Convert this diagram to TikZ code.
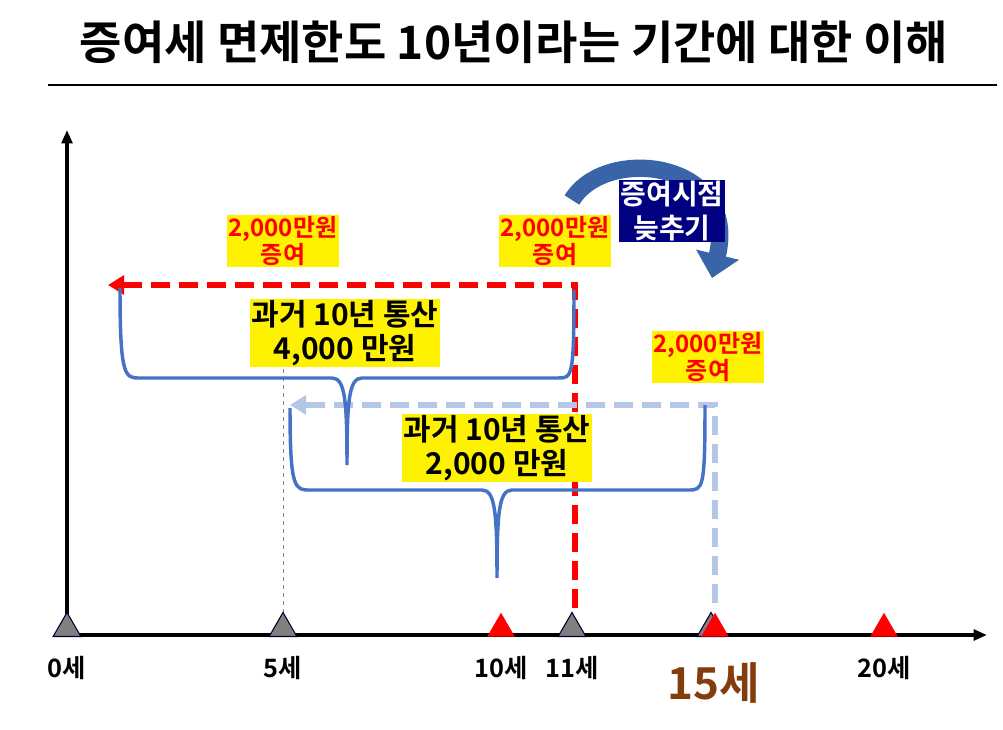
\documentclass[tikz,border=0pt]{standalone}
\usepackage{fontspec}
\setmainfont{Noto Sans CJK KR}[BoldFont={* Bold}]
\usetikzlibrary{arrows.meta,shapes.geometric}
\definecolor{brc}{HTML}{4472C4}
\definecolor{lbl}{HTML}{B4C7E7}
\definecolor{navy}{HTML}{000080}
\definecolor{brown}{HTML}{843C0C}
\definecolor{arr}{HTML}{3A64A8}
\tikzset{
 gift/.style={fill=yellow,text=red,font=\bfseries\fontsize{18}{20}\selectfont,align=center,inner sep=1pt},
 sum/.style={fill=yellow,text=black,font=\bfseries\fontsize{22.5}{26}\selectfont,align=center,inner sep=1pt},
 age/.style={font=\bfseries\fontsize{19}{22}\selectfont},
 tri/.style={regular polygon,regular polygon sides=3,inner sep=0pt,minimum size=24pt,anchor=south},
 brace/.style={brc,line width=2.6pt},
}
\begin{document}
\begin{tikzpicture}[x=0.75pt,y=-0.75pt]
\useasboundingbox (0,0) rectangle (1003,729);
\node[font=\bfseries\fontsize{34.5}{38}\selectfont] (title) at (514,42) {증여세 면제한도 10년이라는 기간에 대한 이해};
\draw[line width=1.5pt] (48,85) -- (997,85);
% axes
\coordinate (o) at (67,635);
\coordinate (ytop) at (67,130);
\coordinate (xend) at (987,635);
\draw[line width=2.8pt,-{Triangle[length=10pt,width=8pt]}] (o) -- (ytop);
\draw[line width=2.8pt,-{Triangle[length=10pt,width=8pt]}] (55,635) -- (xend);
% dashed gray
\draw[gray,dashed,line width=0.6pt] (283,345) -- (283,615);
% red dashed
\coordinate (r1) at (575,608);
\coordinate (r2) at (575,285);
\coordinate (r3) at (108,285);
\draw[red,line width=4.5pt,dash pattern=on 14pt off 7pt,-{Triangle[length=12pt,width=14pt]}] (r1) -- (r2) -- (r3);
% light blue dashed
\coordinate (b1) at (715,603);
\coordinate (b2) at (715,405);
\coordinate (b3) at (290,405);
\draw[lbl,line width=4.5pt,dash pattern=on 14pt off 7pt,-{Triangle[length=12pt,width=14pt]}] (b1) -- (b2) -- (b3);
% braces
\draw[brace] (120,288) .. controls (120,378) and (125,378) .. (140,378) -- (332,378) .. controls (345,378) and (347,400) .. (347,465)
  .. controls (347,400) and (349,378) .. (362,378) -- (558,378) .. controls (572,378) and (574,378) .. (574,290);
\draw[brace] (290,408) .. controls (290,490) and (295,490) .. (310,490) -- (482,490) .. controls (495,490) and (497,512) .. (497,578)
  .. controls (497,512) and (499,490) .. (512,490) -- (688,490) .. controls (703,490) and (705,490) .. (705,405);
% triangles
\foreach \x/\n in {67/t0,283/t5,572/t11,711/t15g}{\node[tri,fill=gray,draw=black!80!blue,line width=0.8pt] (\n) at (\x,637) {};}
\foreach \x/\n in {501/t10,715/t15,884/t20}{\node[tri,fill=red] (\n) at (\x,637) {};}
% age labels
\node[age] (a0) at (67,668) {0세};
\node[age] (a5) at (283,668) {5세};
\node[age] (a10) at (501,668) {10세};
\node[age] (a11) at (572,668) {11세};
\node[font=\bfseries\fontsize{33}{36}\selectfont,text=brown] (a15) at (714,683) {15세};
\node[age] (a20) at (884,668) {20세};
% gift labels
\node[gift] (g1) at (283,241) {2,000만원\\증여};
\node[gift] (g2) at (555,241) {2,000만원\\증여};
\node[gift] (g3) at (708,357) {2,000만원\\증여};
\node[sum] (s1) at (345,333) {과거 10년 통산\\4,000 만원};
\node[sum] (s2) at (497,448) {과거 10년 통산\\2,000 만원};
% curved arrow
\coordinate (c1) at (572,200);
\draw[arr,line width=13pt,-{Triangle[length=18pt,width=32pt]}] (c1) .. controls (605,145) and (740,160) .. (712,278);
\node[fill=navy,text=white,font=\bfseries\fontsize{21}{25}\selectfont,align=center,inner sep=1pt] (late) at (672,211) {증여시점\\늦추기};
\end{tikzpicture}
\end{document}
